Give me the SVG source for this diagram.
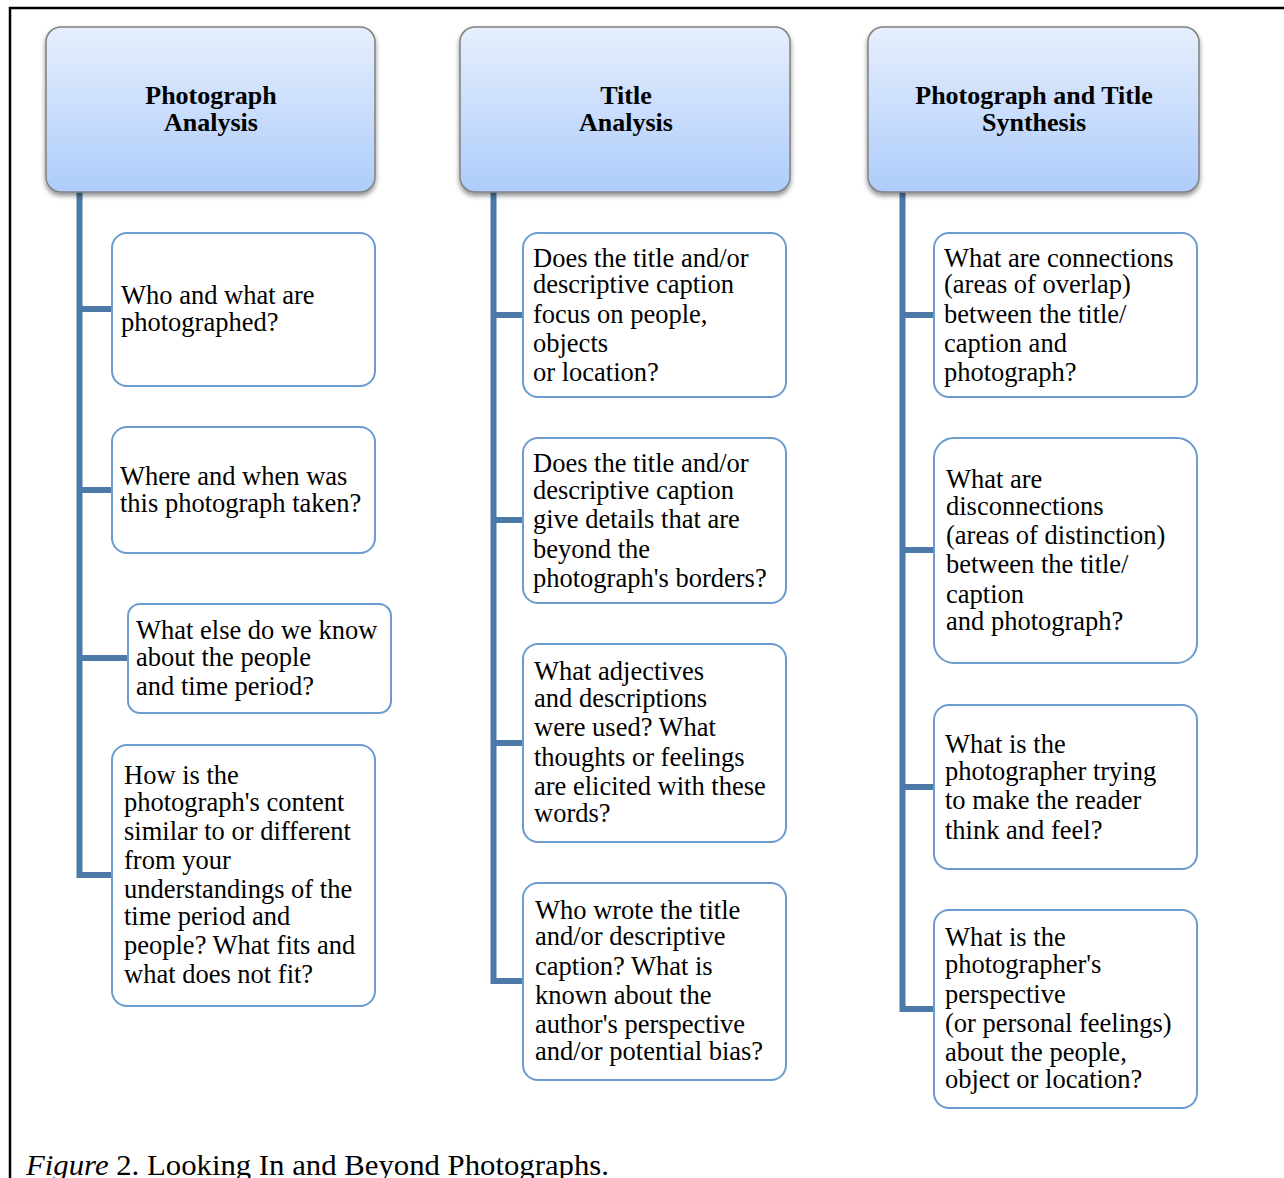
<svg xmlns="http://www.w3.org/2000/svg" width="1284" height="1178" viewBox="0 0 1284 1178">
<defs>
<linearGradient id="hg" x1="0" y1="0" x2="0" y2="1">
<stop offset="0" stop-color="#e6effd"/>
<stop offset="1" stop-color="#aeccfb"/>
</linearGradient>
<filter id="sh" x="-10%" y="-10%" width="120%" height="130%">
<feDropShadow dx="0" dy="3" stdDeviation="2.5" flood-color="#000" flood-opacity="0.45"/>
</filter>
</defs>
<style>
.hdr{fill:url(#hg);stroke:#808080;stroke-width:1.5;filter:url(#sh)}
.box{fill:#fff;stroke:#6b9bcf;stroke-width:2}
.ht{font-family:"Liberation Serif","Times New Roman",serif;font-weight:bold;font-size:26px;text-anchor:middle;fill:#000}
.t{font-family:"Liberation Serif","Times New Roman",serif;font-size:26.5px;fill:#000}
.con{fill:none;stroke:#4c79a8;stroke-width:6}
.cap{font-family:"Liberation Serif","Times New Roman",serif;font-size:29px;fill:#000}
</style>
<rect width="1284" height="1178" fill="#fff"/>
<path d="M10 1178 V8 H1284" fill="none" stroke="#000" stroke-width="2.5"/>

<g id="connectors">
<path class="con" d="M79.5 192 V875 H112"/>
<path class="con" d="M79.5 309 H112 M79.5 490 H112 M79.5 658 H128"/>
<path class="con" d="M493.5 192 V981 H523"/>
<path class="con" d="M493.5 315 H523 M493.5 520 H523 M493.5 743 H523"/>
<path class="con" d="M902.5 192 V1009 H934"/>
<path class="con" d="M902.5 315 H934 M902.5 550 H934 M902.5 787 H934"/>
</g>

<g id="h1"><rect class="hdr" x="46" y="27" width="329" height="165" rx="15"/>
<text class="ht" x="211" y="104">Photograph</text><text class="ht" x="211" y="131">Analysis</text></g>
<g id="h2"><rect class="hdr" x="460" y="27" width="330" height="165" rx="15"/>
<text class="ht" x="626" y="104">Title</text><text class="ht" x="626" y="131">Analysis</text></g>
<g id="h3"><rect class="hdr" x="868" y="27" width="331" height="165" rx="15"/>
<text class="ht" x="1034" y="104">Photograph and Title</text><text class="ht" x="1034" y="131">Synthesis</text></g>

<g id="a1"><rect class="box" x="112" y="233" width="263" height="153" rx="15"/>
<text class="t" x="121"><tspan x="121" y="304">Who and what are</tspan><tspan x="121" y="331">photographed?</tspan></text></g>
<g id="a2"><rect class="box" x="112" y="427" width="263" height="126" rx="15"/>
<text class="t"><tspan x="120" y="485">Where and when was</tspan><tspan x="120" y="512">this photograph taken?</tspan></text></g>
<g id="a3"><rect class="box" x="128" y="604" width="263" height="109" rx="12"/>
<text class="t"><tspan x="136" y="639">What else do we know</tspan><tspan x="136" y="666">about the people</tspan><tspan x="136" y="695">and time period?</tspan></text></g>
<g id="a4"><rect class="box" x="112" y="745" width="263" height="261" rx="15"/>
<text class="t"><tspan x="124" y="784">How is the</tspan><tspan x="124" y="811">photograph's content</tspan><tspan x="124" y="840">similar to or different</tspan><tspan x="124" y="869">from your</tspan><tspan x="124" y="898">understandings of the</tspan><tspan x="124" y="925">time period and</tspan><tspan x="124" y="954">people? What fits and</tspan><tspan x="124" y="983">what does not fit?</tspan></text></g>

<g id="b1"><rect class="box" x="523" y="233" width="263" height="164" rx="15"/>
<text class="t"><tspan x="533" y="267">Does the title and/or</tspan><tspan x="533" y="293">descriptive caption</tspan><tspan x="533" y="323">focus on people,</tspan><tspan x="533" y="352">objects</tspan><tspan x="533" y="381">or location?</tspan></text></g>
<g id="b2"><rect class="box" x="523" y="438" width="263" height="165" rx="15"/>
<text class="t"><tspan x="533" y="472">Does the title and/or</tspan><tspan x="533" y="499">descriptive caption</tspan><tspan x="533" y="528">give details that are</tspan><tspan x="533" y="558">beyond the</tspan><tspan x="533" y="587">photograph's borders?</tspan></text></g>
<g id="b3"><rect class="box" x="523" y="644" width="263" height="198" rx="15"/>
<text class="t"><tspan x="534" y="680">What adjectives</tspan><tspan x="534" y="707">and descriptions</tspan><tspan x="534" y="736">were used? What</tspan><tspan x="534" y="766">thoughts or feelings</tspan><tspan x="534" y="795">are elicited with these</tspan><tspan x="534" y="822">words?</tspan></text></g>
<g id="b4"><rect class="box" x="523" y="883" width="263" height="197" rx="15"/>
<text class="t"><tspan x="535" y="919">Who wrote the title</tspan><tspan x="535" y="945">and/or descriptive</tspan><tspan x="535" y="975">caption? What is</tspan><tspan x="535" y="1004">known about the</tspan><tspan x="535" y="1033">author's perspective</tspan><tspan x="535" y="1060">and/or potential bias?</tspan></text></g>

<g id="c1"><rect class="box" x="934" y="233" width="263" height="164" rx="15"/>
<text class="t"><tspan x="944" y="267">What are connections</tspan><tspan x="944" y="293">(areas of overlap)</tspan><tspan x="944" y="323">between the title/</tspan><tspan x="944" y="352">caption and</tspan><tspan x="944" y="381">photograph?</tspan></text></g>
<g id="c2"><rect class="box" x="934" y="438" width="263" height="225" rx="20"/>
<text class="t"><tspan x="946" y="488">What are</tspan><tspan x="946" y="515">disconnections</tspan><tspan x="946" y="544">(areas of distinction)</tspan><tspan x="946" y="573">between the title/</tspan><tspan x="946" y="603">caption</tspan><tspan x="946" y="630">and photograph?</tspan></text></g>
<g id="c3"><rect class="box" x="934" y="705" width="263" height="164" rx="15"/>
<text class="t"><tspan x="945" y="753">What is the</tspan><tspan x="945" y="780">photographer trying</tspan><tspan x="945" y="809">to make the reader</tspan><tspan x="945" y="839">think and feel?</tspan></text></g>
<g id="c4"><rect class="box" x="934" y="910" width="263" height="198" rx="15"/>
<text class="t"><tspan x="945" y="946">What is the</tspan><tspan x="945" y="973">photographer's</tspan><tspan x="945" y="1003">perspective</tspan><tspan x="945" y="1032">(or personal feelings)</tspan><tspan x="945" y="1061">about the people,</tspan><tspan x="945" y="1088">object or location?</tspan></text></g>

<text class="cap" x="26" y="1175" textLength="583" lengthAdjust="spacingAndGlyphs"><tspan font-style="italic">Figure</tspan> 2. Looking In and Beyond Photographs.</text>
</svg>
